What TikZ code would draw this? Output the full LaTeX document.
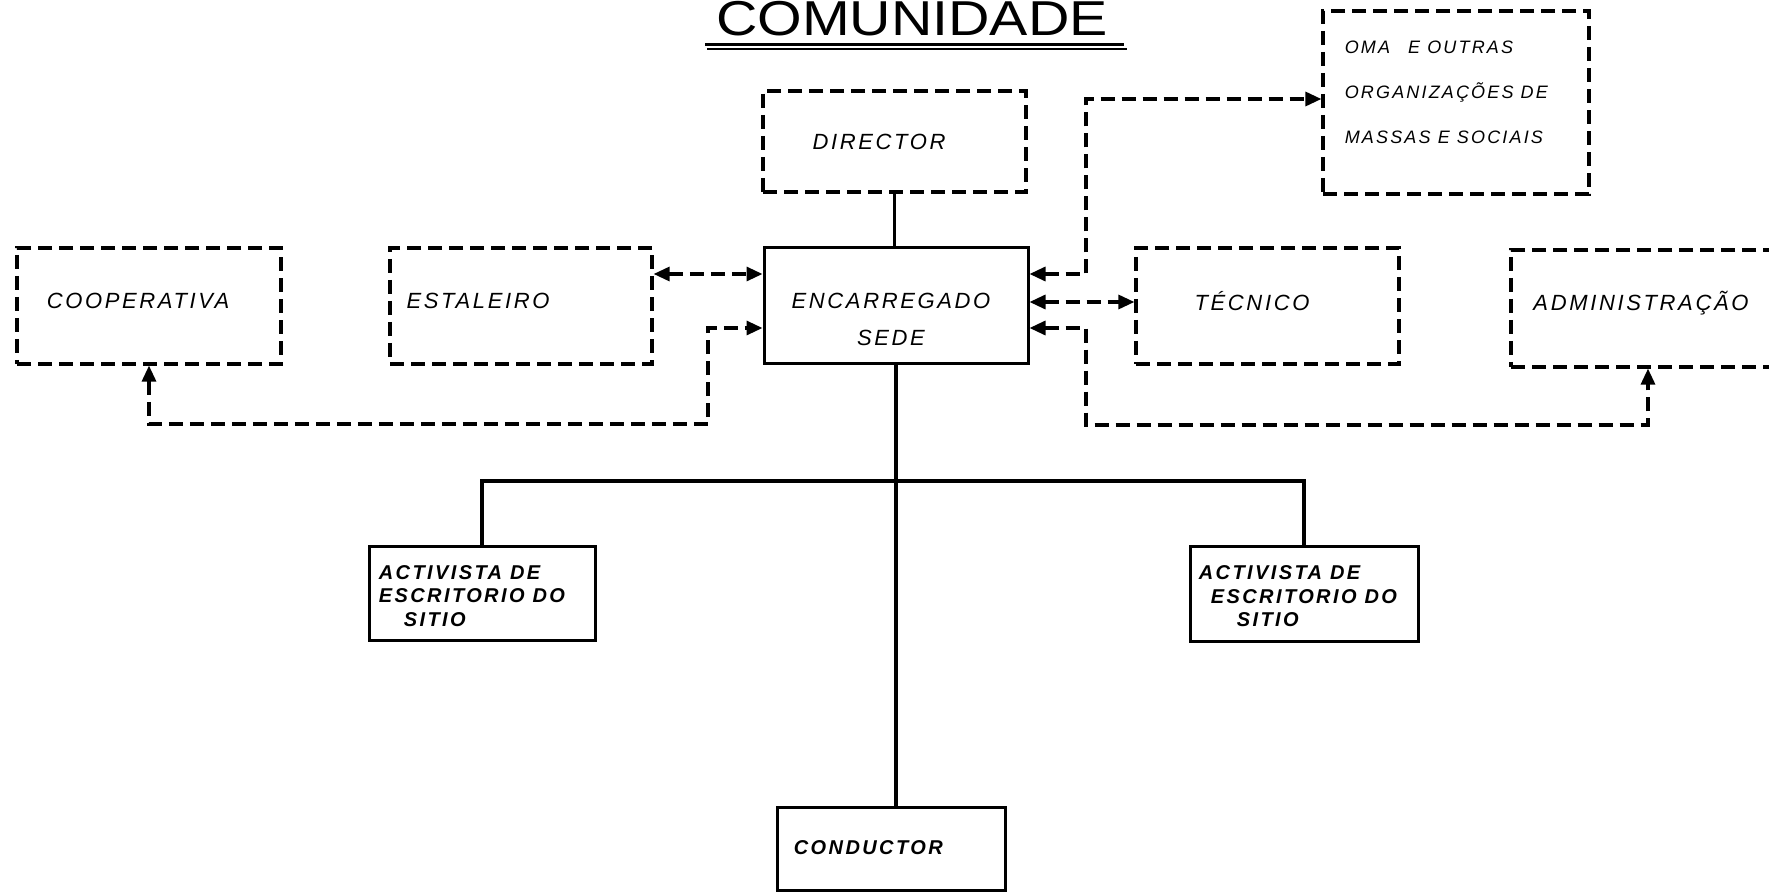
\documentclass[tikz,border=0pt]{standalone}
\usepackage{fontspec}
\setmainfont{Liberation Sans}
\newfontfamily\hand[LetterSpace=12]{Liberation Sans}
\newfontfamily\titlefont{Liberation Sans}
\usetikzlibrary{arrows.meta}
\tikzset{
  dbox/.style={draw, line width=1.6pt, dash pattern=on 7pt off 3.5pt, inner sep=0pt},
  sbox/.style={draw, line width=1.5pt, inner sep=0pt},
  lbl/.style={inner sep=0pt, font=\hand\itshape\fontsize{11}{13}\selectfont},
  dline/.style={line width=1.6pt, dash pattern=on 7pt off 3.5pt,
    arrows={Triangle[length=8pt,width=7pt]-Triangle[length=8pt,width=7pt]}},
  sline/.style={line width=1.6pt}
}
\begin{document}
\begin{tikzpicture}[x=0.5pt,y=-0.5pt]
\fill[white] (0,0) rectangle (1769,893);
\useasboundingbox (0,0) rectangle (1769,893);

% title
\node[anchor=base, inner sep=0pt, xscale=1.17, font=\titlefont\fontsize{24.5}{26}\selectfont] (title) at (912,36) {COMUNIDADE};
\draw[line width=1.5pt] (705,45) -- (1124,45);
\draw[line width=0.8pt] (707,49) -- (1127,49);

% boxes
\node[dbox, minimum width=131.5pt, minimum height=50.5pt] (dir) at (894.5,141.5) {};
\node[dbox, minimum width=133pt, minimum height=91.5pt] (oma) at (1456,102.5) {};
\node[dbox, minimum width=132pt, minimum height=58pt] (coop) at (149,306) {};
\node[dbox, minimum width=131pt, minimum height=58pt] (est) at (521,306) {};
\node[sbox, minimum width=132pt, minimum height=58pt] (enc) at (896,306) {};
\node[dbox, minimum width=131.5pt, minimum height=58pt] (tec) at (1267.5,306) {};
\node[dbox, minimum width=137pt, minimum height=58.5pt] (adm) at (1648,308.5) {};
\node[sbox, minimum width=113pt, minimum height=47pt] (actL) at (482,593) {};
\node[sbox, minimum width=114pt, minimum height=47.5pt] (actR) at (1304,593.5) {};
\node[sbox, minimum width=114pt, minimum height=41.5pt] (cond) at (891,849) {};

% labels
\node[lbl] (dirT) at ([xshift=-7.75pt]dir.center) {DIRECTOR};
\node[lbl, align=left, anchor=west, font=\hand\itshape\fontsize{9}{22.5}\selectfont] (omaT) at ([xshift=11.5pt,yshift=5pt]oma.west) {OMA\quad E OUTRAS\\ORGANIZAÇÕES DE\\MASSAS E SOCIAIS};
\node[lbl] (coopT) at ([xshift=-5.5pt,yshift=2.5pt]coop.center) {COOPERATIVA};
\node[lbl] (estT) at ([xshift=-21.5pt,yshift=2.5pt]est.center) {ESTALEIRO};
\node[lbl, align=center, font=\hand\itshape\fontsize{11}{18.5}\selectfont] (encT) at ([xshift=-2.5pt,yshift=-6.75pt]enc.center) {ENCARREGADO\\SEDE};
\node[lbl] (tecT) at ([xshift=-7.75pt,yshift=2.5pt]tec.center) {TÉCNICO};
\node[lbl] (admT) at ([xshift=-3.5pt,yshift=2.75pt]adm.center) {ADMINISTRAÇÃO};
\node[lbl, align=left, anchor=west, font=\hand\bfseries\itshape\fontsize{10}{11.75}\selectfont] (actLT) at ([xshift=5.5pt,yshift=-1.5pt]actL.west) {ACTIVISTA DE\\ESCRITORIO DO\\\hspace*{12.5pt}SITIO};
\node[lbl, align=left, anchor=west, font=\hand\bfseries\itshape\fontsize{10}{11.75}\selectfont] (actRT) at ([xshift=5pt,yshift=-1.5pt]actR.west) {ACTIVISTA DE\\\hspace*{6pt}ESCRITORIO DO\\\hspace*{19pt}SITIO};
\node[lbl, anchor=west, font=\hand\bfseries\itshape\fontsize{10}{12}\selectfont] (condT) at ([xshift=9pt,yshift=0.5pt]cond.west) {CONDUCTOR};

% bus corner coordinates
\coordinate (lbus) at (708,424);
\coordinate (rbus) at (1086,425);
\coordinate (obus) at (1086,99);
\coordinate (hb) at (895,481);

% solid connectors
\draw[sline] (dir.south) -- (dir.south |- enc.north);
\draw[sline] (enc.south) -- (enc.south |- cond.north);
\draw[sline] (actL.north) |- (hb) -| (actR.north);

% dashed connectors
\draw[dline] ([yshift=16pt]est.east) -- ([yshift=16pt]est.east -| enc.west);
\draw[dline] (coop.south) |- (lbus) |- ([yshift=-11pt]enc.west);
\draw[dline] ([yshift=16pt]enc.east) -| (obus) -- (obus -| oma.west);
\draw[dline] ([yshift=2pt]enc.east) -- ([yshift=2pt]enc.east -| tec.west);
\draw[dline] ([yshift=-11pt]enc.east) -| (rbus) -| (adm.south);
\end{tikzpicture}
\end{document}
